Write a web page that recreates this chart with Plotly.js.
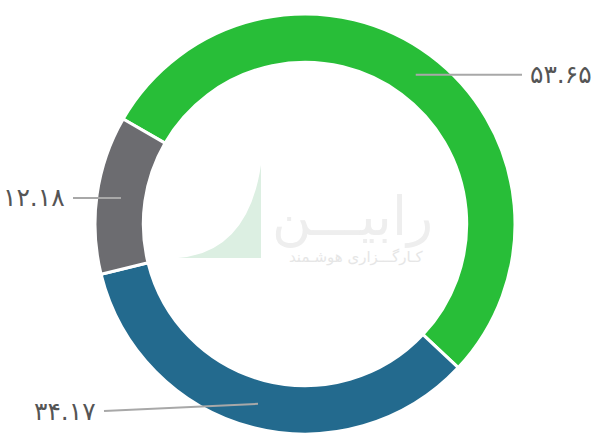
<!DOCTYPE html>
<html>
<head>
<meta charset="utf-8">
<script src="https://cdn.plot.ly/plotly-3.0.1.min.js"></script>
<style>html,body{margin:0;padding:0;background:#fff;}#chart{width:608px;height:435px;}</style>
</head>
<body>
<div id="chart"></div>
<script>
// Data
var categories = ["A", "B", "C"];
var values = [53.65, 34.17, 12.18];
var colors = ["#28be38", "#236a8e", "#6c6c70"];

function toFa(s) {
  var d = "۰۱۲۳۴۵۶۷۸۹";
  return String(s).replace(/[0-9]/g, function (c) { return d[+c]; });
}
var labelTexts = values.map(function (v) { return toFa(v.toFixed(2)); });

// Layout geometry (pixels)
var W = 608, H = 435;
var cx = 305, cy = 224, R = 210, hole = 0.77;
var rotation = -60;
var midR = R * (1 + hole) / 2;
// label line end points per slice (layout)
var lineEnd = [[522, null], [104, 411], [73, null]];
var textAnchorSide = ["left", "right", "right"];

var domX = [(cx - R) / W, (cx + R) / W];
var domY = [1 - (cy + R) / H, 1 - (cy - R) / H];

var total = values.reduce(function (a, b) { return a + b; }, 0);
var shapes = [], annotations = [];
var cum = 0;
values.forEach(function (v, i) {
  var mid = rotation + (cum + v / 2) / total * 360;
  cum += v;
  var a = mid * Math.PI / 180;
  var px = cx + midR * Math.sin(a), py = cy - midR * Math.cos(a);
  var ex = lineEnd[i][0], ey = lineEnd[i][1] === null ? py : lineEnd[i][1];
  shapes.push({type: "line", xref: "paper", yref: "paper",
    x0: px / W, y0: 1 - py / H, x1: ex / W, y1: 1 - ey / H,
    line: {color: "#a8a8a8", width: 2}});
  var left = textAnchorSide[i] === "left";
  annotations.push({xref: "paper", yref: "paper",
    x: (left ? ex + 6 : ex - 6) / W, y: 1 - ey / H,
    xanchor: left ? "left" : "right", yanchor: "middle",
    text: labelTexts[i], showarrow: false,
    font: {family: "DejaVu Sans", size: 25, color: "#555555", weight: 500}});
});

// watermark
shapes.unshift({type: "path", xref: "paper", yref: "paper", layer: "below",
  path: "M " + 178 / W + " " + (1 - 258 / H) + " Q " + 248 / W + " " + (1 - 252 / H) + " " + 261 / W + " " + (1 - 165 / H) +
        " L " + 261 / W + " " + (1 - 258 / H) + " Z",
  fillcolor: "#dcefe2", line: {width: 0}});
annotations.unshift({xref: "paper", yref: "paper", x: 352 / W, y: 1 - 216 / H,
  xanchor: "center", yanchor: "middle", text: "رابیـــن", showarrow: false,
  font: {family: "DejaVu Sans", size: 54, color: "#eeeeee"}});
annotations.unshift({xref: "paper", yref: "paper", x: 356 / W, y: 1 - 257 / H,
  xanchor: "center", yanchor: "middle", text: "کـارگـــزاری هوشـمند", showarrow: false,
  font: {family: "DejaVu Sans", size: 15, color: "#e6e6e6"}});

var trace = {
  type: "pie", labels: categories, values: values, hole: hole,
  sort: false, direction: "clockwise", rotation: rotation,
  marker: {colors: colors, line: {color: "#ffffff", width: 3}},
  textinfo: "none", hoverinfo: "none", showlegend: false,
  domain: {x: domX, y: domY}
};

Plotly.newPlot("chart", [trace], {
  width: W, height: H, margin: {l: 0, r: 0, t: 0, b: 0},
  paper_bgcolor: "#ffffff", plot_bgcolor: "#ffffff",
  showlegend: false, shapes: shapes, annotations: annotations
}, {displayModeBar: false, staticPlot: true});
</script>
</body>
</html>
